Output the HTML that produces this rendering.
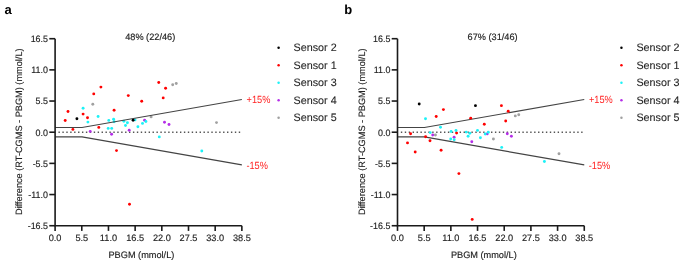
<!DOCTYPE html>
<html><head><meta charset="utf-8"><style>
html,body{margin:0;padding:0;background:#fff;}
body{width:685px;height:264px;overflow:hidden;}
svg{display:block;will-change:transform;}
text{font-family:"Liberation Sans",sans-serif;text-rendering:geometricPrecision;}
.tk{font-size:9.2px;fill:#222;stroke:#222;stroke-width:0.15px;}
.lg{font-size:10.75px;fill:#262626;stroke:#262626;stroke-width:0.1px;}
.pc{font-size:10.4px;fill:#f22;}
.lt{font-size:13px;font-weight:bold;fill:#000;}
.ax{stroke:#1a1a1a;stroke-width:1.6;fill:none;}
.bl{stroke:#444;stroke-width:1.15;fill:none;}
.dz{stroke:#555;stroke-width:1.4;fill:none;stroke-dasharray:1.4 2.52;}
</style></head><body>
<svg width="685" height="264" viewBox="0 0 685 264">
<rect width="685" height="264" fill="#fff"/>
<text x="4.6" y="14.4" class="lt">a</text>
<text class="tk" text-anchor="middle" transform="translate(22.3,131.7) rotate(-90) scale(1,1.0)">Difference (RT-CGMS - PBGM) (mmol/L)</text>
<text class="tk" text-anchor="middle" transform="translate(150.2,40.3)">48% (22/46)</text>
<path d="M58.45 132.2H240.5" class="dz"/>
<circle cx="92.8" cy="104.2" r="1.45" fill="#a0a0a0"/>
<circle cx="151.1" cy="116.9" r="1.45" fill="#a0a0a0"/>
<circle cx="172.7" cy="84.8" r="1.45" fill="#a0a0a0"/>
<circle cx="176.25" cy="83.5" r="1.45" fill="#a0a0a0"/>
<circle cx="216.5" cy="122.6" r="1.45" fill="#a0a0a0"/>
<circle cx="90.2" cy="131.4" r="1.45" fill="#b52ee8"/>
<circle cx="111.6" cy="134.2" r="1.45" fill="#b52ee8"/>
<circle cx="129.2" cy="130.2" r="1.45" fill="#b52ee8"/>
<circle cx="144.6" cy="120.2" r="1.45" fill="#b52ee8"/>
<circle cx="164.5" cy="122.2" r="1.45" fill="#b52ee8"/>
<circle cx="169" cy="124.5" r="1.45" fill="#b52ee8"/>
<circle cx="83.1" cy="108.2" r="1.45" fill="#1cf2f7"/>
<circle cx="98.1" cy="116.5" r="1.45" fill="#1cf2f7"/>
<circle cx="87.9" cy="122.1" r="1.45" fill="#1cf2f7"/>
<circle cx="108.8" cy="120.4" r="1.45" fill="#1cf2f7"/>
<circle cx="113.6" cy="119.2" r="1.45" fill="#1cf2f7"/>
<circle cx="114.1" cy="121.8" r="1.45" fill="#1cf2f7"/>
<circle cx="108.2" cy="128.4" r="1.45" fill="#1cf2f7"/>
<circle cx="111.7" cy="128.4" r="1.45" fill="#1cf2f7"/>
<circle cx="123.9" cy="121.3" r="1.45" fill="#1cf2f7"/>
<circle cx="127.4" cy="122.7" r="1.45" fill="#1cf2f7"/>
<circle cx="125.5" cy="125.5" r="1.45" fill="#1cf2f7"/>
<circle cx="135" cy="119.9" r="1.45" fill="#1cf2f7"/>
<circle cx="137.9" cy="126.8" r="1.45" fill="#1cf2f7"/>
<circle cx="142.5" cy="123.4" r="1.45" fill="#1cf2f7"/>
<circle cx="145.9" cy="121.5" r="1.45" fill="#1cf2f7"/>
<circle cx="159.3" cy="136.9" r="1.45" fill="#1cf2f7"/>
<circle cx="201.8" cy="151.05" r="1.45" fill="#1cf2f7"/>
<path d="M55.1 127.48H82.02L241.86 99.47" class="bl"/>
<path d="M55.1 136.92H82.02L241.86 164.93" class="bl"/>
<circle cx="68" cy="111.5" r="1.45" fill="#ff0000"/>
<circle cx="83.1" cy="114.1" r="1.45" fill="#ff0000"/>
<circle cx="87.5" cy="117.7" r="1.45" fill="#ff0000"/>
<circle cx="65.2" cy="120.5" r="1.45" fill="#ff0000"/>
<circle cx="72.9" cy="129.4" r="1.45" fill="#ff0000"/>
<circle cx="98.8" cy="127.4" r="1.45" fill="#ff0000"/>
<circle cx="93.75" cy="93.9" r="1.45" fill="#ff0000"/>
<circle cx="100.9" cy="87.1" r="1.45" fill="#ff0000"/>
<circle cx="114.1" cy="110.3" r="1.45" fill="#ff0000"/>
<circle cx="128.3" cy="95.6" r="1.45" fill="#ff0000"/>
<circle cx="141.7" cy="101.3" r="1.45" fill="#ff0000"/>
<circle cx="158.75" cy="82.5" r="1.45" fill="#ff0000"/>
<circle cx="165.6" cy="88.2" r="1.45" fill="#ff0000"/>
<circle cx="163.2" cy="97.9" r="1.45" fill="#ff0000"/>
<circle cx="116.5" cy="150.6" r="1.45" fill="#ff0000"/>
<circle cx="129.5" cy="204.25" r="1.45" fill="#ff0000"/>
<circle cx="76.9" cy="118.8" r="1.45" fill="#000000"/>
<circle cx="133.1" cy="120.3" r="1.45" fill="#000000"/>
<path d="M55.1 38.7V225.7H241.86" class="ax"/>
<path d="M49.3 38.7H55.1" class="ax"/>
<text class="tk" text-anchor="end" transform="translate(48,42.1) scale(0.97,1.0)">16.5</text>
<path d="M49.3 69.87H55.1" class="ax"/>
<text class="tk" text-anchor="end" transform="translate(48,73.27) scale(0.97,1.0)">11.0</text>
<path d="M49.3 101.04H55.1" class="ax"/>
<text class="tk" text-anchor="end" transform="translate(48,104.44) scale(0.97,1.0)">5.5</text>
<path d="M49.3 132.21H55.1" class="ax"/>
<text class="tk" text-anchor="end" transform="translate(48,135.61) scale(0.97,1.0)">0.0</text>
<path d="M49.3 163.38H55.1" class="ax"/>
<text class="tk" text-anchor="end" transform="translate(48,166.78) scale(0.97,1.0)">-5.5</text>
<path d="M49.3 194.55H55.1" class="ax"/>
<text class="tk" text-anchor="end" transform="translate(48,197.95) scale(0.97,1.0)">-11.0</text>
<path d="M49.3 225.72H55.1" class="ax"/>
<text class="tk" text-anchor="end" transform="translate(48,229.12) scale(0.97,1.0)">-16.5</text>
<path d="M55.1 225.7V230.9" class="ax"/>
<text class="tk" text-anchor="middle" transform="translate(55.1,241.3)">0.0</text>
<path d="M81.78 225.7V230.9" class="ax"/>
<text class="tk" text-anchor="middle" transform="translate(81.78,241.3)">5.5</text>
<path d="M108.46 225.7V230.9" class="ax"/>
<text class="tk" text-anchor="middle" transform="translate(108.46,241.3)">11.0</text>
<path d="M135.14 225.7V230.9" class="ax"/>
<text class="tk" text-anchor="middle" transform="translate(135.14,241.3)">16.5</text>
<path d="M161.82 225.7V230.9" class="ax"/>
<text class="tk" text-anchor="middle" transform="translate(161.82,241.3)">22.0</text>
<path d="M188.5 225.7V230.9" class="ax"/>
<text class="tk" text-anchor="middle" transform="translate(188.5,241.3)">27.5</text>
<path d="M215.18 225.7V230.9" class="ax"/>
<text class="tk" text-anchor="middle" transform="translate(215.18,241.3)">33.0</text>
<path d="M241.86 225.7V230.9" class="ax"/>
<text class="tk" text-anchor="middle" transform="translate(241.86,241.3)">38.5</text>
<text class="tk" text-anchor="middle" transform="translate(141.4,257.8)">PBGM (mmol/L)</text>
<text class="pc" transform="translate(246.6,102.9) scale(0.885,1)">+15%</text>
<text class="pc" transform="translate(246.4,168.9) scale(0.885,1)">-15%</text>
<circle cx="278.6" cy="47.8" r="1.25" fill="#000000"/>
<text x="293.6" y="51.2" class="lg">Sensor 2</text>
<circle cx="278.6" cy="65.27" r="1.25" fill="#ff0000"/>
<text x="293.6" y="68.67" class="lg">Sensor 1</text>
<circle cx="278.6" cy="82.74" r="1.25" fill="#1cf2f7"/>
<text x="293.6" y="86.14" class="lg">Sensor 3</text>
<circle cx="278.6" cy="100.21" r="1.25" fill="#b52ee8"/>
<text x="293.6" y="103.61" class="lg">Sensor 4</text>
<circle cx="278.6" cy="117.68" r="1.25" fill="#a0a0a0"/>
<text x="293.6" y="121.08" class="lg">Sensor 5</text>
<text x="344.2" y="14.4" class="lt">b</text>
<text class="tk" text-anchor="middle" transform="translate(364.7,131.7) rotate(-90) scale(1,1.0)">Difference (RT-CGMS - PBGM) (mmol/L)</text>
<text class="tk" text-anchor="middle" transform="translate(492.6,40.3)">67% (31/46)</text>
<path d="M400.85 132.2H582.9" class="dz"/>
<circle cx="435.4" cy="135" r="1.45" fill="#a0a0a0"/>
<circle cx="515.3" cy="115.9" r="1.45" fill="#a0a0a0"/>
<circle cx="518.75" cy="114.7" r="1.45" fill="#a0a0a0"/>
<circle cx="493.4" cy="139" r="1.45" fill="#a0a0a0"/>
<circle cx="559" cy="153.8" r="1.45" fill="#a0a0a0"/>
<circle cx="432.7" cy="135" r="1.45" fill="#b52ee8"/>
<circle cx="454.1" cy="137.2" r="1.45" fill="#b52ee8"/>
<circle cx="487.2" cy="133.9" r="1.45" fill="#b52ee8"/>
<circle cx="471.8" cy="141.8" r="1.45" fill="#b52ee8"/>
<circle cx="507.3" cy="133.8" r="1.45" fill="#b52ee8"/>
<circle cx="511.4" cy="136.2" r="1.45" fill="#b52ee8"/>
<circle cx="425.5" cy="118.7" r="1.45" fill="#1cf2f7"/>
<circle cx="440.5" cy="127.2" r="1.45" fill="#1cf2f7"/>
<circle cx="430.2" cy="132.6" r="1.45" fill="#1cf2f7"/>
<circle cx="451.1" cy="131.5" r="1.45" fill="#1cf2f7"/>
<circle cx="456" cy="130.5" r="1.45" fill="#1cf2f7"/>
<circle cx="450.7" cy="139" r="1.45" fill="#1cf2f7"/>
<circle cx="454.2" cy="139.8" r="1.45" fill="#1cf2f7"/>
<circle cx="466.2" cy="132.1" r="1.45" fill="#1cf2f7"/>
<circle cx="469.8" cy="133.3" r="1.45" fill="#1cf2f7"/>
<circle cx="468.1" cy="136.2" r="1.45" fill="#1cf2f7"/>
<circle cx="477.5" cy="130.4" r="1.45" fill="#1cf2f7"/>
<circle cx="480.4" cy="137.8" r="1.45" fill="#1cf2f7"/>
<circle cx="485.2" cy="134" r="1.45" fill="#1cf2f7"/>
<circle cx="488.3" cy="132.2" r="1.45" fill="#1cf2f7"/>
<circle cx="501.7" cy="147.4" r="1.45" fill="#1cf2f7"/>
<circle cx="544.4" cy="161.5" r="1.45" fill="#1cf2f7"/>
<path d="M397.5 127.48H424.42L584.26 99.47" class="bl"/>
<path d="M397.5 136.92H424.42L584.26 164.93" class="bl"/>
<circle cx="443.4" cy="109.6" r="1.45" fill="#ff0000"/>
<circle cx="436.2" cy="116.45" r="1.45" fill="#ff0000"/>
<circle cx="410.6" cy="133.8" r="1.45" fill="#ff0000"/>
<circle cx="425.6" cy="136.7" r="1.45" fill="#ff0000"/>
<circle cx="430" cy="140.7" r="1.45" fill="#ff0000"/>
<circle cx="407.5" cy="142.9" r="1.45" fill="#ff0000"/>
<circle cx="456.6" cy="133.1" r="1.45" fill="#ff0000"/>
<circle cx="415.2" cy="152" r="1.45" fill="#ff0000"/>
<circle cx="441.1" cy="150.3" r="1.45" fill="#ff0000"/>
<circle cx="458.9" cy="173.6" r="1.45" fill="#ff0000"/>
<circle cx="472.2" cy="219.4" r="1.45" fill="#ff0000"/>
<circle cx="501.4" cy="105.65" r="1.45" fill="#ff0000"/>
<circle cx="508.2" cy="111.3" r="1.45" fill="#ff0000"/>
<circle cx="470.7" cy="118.15" r="1.45" fill="#ff0000"/>
<circle cx="505.7" cy="121" r="1.45" fill="#ff0000"/>
<circle cx="484.3" cy="124.2" r="1.45" fill="#ff0000"/>
<circle cx="419.2" cy="103.95" r="1.45" fill="#000000"/>
<circle cx="475.45" cy="105.65" r="1.45" fill="#000000"/>
<path d="M397.5 38.7V225.7H584.26" class="ax"/>
<path d="M391.7 38.7H397.5" class="ax"/>
<text class="tk" text-anchor="end" transform="translate(390.4,42.1) scale(0.97,1.0)">16.5</text>
<path d="M391.7 69.87H397.5" class="ax"/>
<text class="tk" text-anchor="end" transform="translate(390.4,73.27) scale(0.97,1.0)">11.0</text>
<path d="M391.7 101.04H397.5" class="ax"/>
<text class="tk" text-anchor="end" transform="translate(390.4,104.44) scale(0.97,1.0)">5.5</text>
<path d="M391.7 132.21H397.5" class="ax"/>
<text class="tk" text-anchor="end" transform="translate(390.4,135.61) scale(0.97,1.0)">0.0</text>
<path d="M391.7 163.38H397.5" class="ax"/>
<text class="tk" text-anchor="end" transform="translate(390.4,166.78) scale(0.97,1.0)">-5.5</text>
<path d="M391.7 194.55H397.5" class="ax"/>
<text class="tk" text-anchor="end" transform="translate(390.4,197.95) scale(0.97,1.0)">-11.0</text>
<path d="M391.7 225.72H397.5" class="ax"/>
<text class="tk" text-anchor="end" transform="translate(390.4,229.12) scale(0.97,1.0)">-16.5</text>
<path d="M397.5 225.7V230.9" class="ax"/>
<text class="tk" text-anchor="middle" transform="translate(397.5,241.3)">0.0</text>
<path d="M424.18 225.7V230.9" class="ax"/>
<text class="tk" text-anchor="middle" transform="translate(424.18,241.3)">5.5</text>
<path d="M450.86 225.7V230.9" class="ax"/>
<text class="tk" text-anchor="middle" transform="translate(450.86,241.3)">11.0</text>
<path d="M477.54 225.7V230.9" class="ax"/>
<text class="tk" text-anchor="middle" transform="translate(477.54,241.3)">16.5</text>
<path d="M504.22 225.7V230.9" class="ax"/>
<text class="tk" text-anchor="middle" transform="translate(504.22,241.3)">22.0</text>
<path d="M530.9 225.7V230.9" class="ax"/>
<text class="tk" text-anchor="middle" transform="translate(530.9,241.3)">27.5</text>
<path d="M557.58 225.7V230.9" class="ax"/>
<text class="tk" text-anchor="middle" transform="translate(557.58,241.3)">33.0</text>
<path d="M584.26 225.7V230.9" class="ax"/>
<text class="tk" text-anchor="middle" transform="translate(584.26,241.3)">38.5</text>
<text class="tk" text-anchor="middle" transform="translate(483.8,257.8)">PBGM (mmol/L)</text>
<text class="pc" transform="translate(589,102.9) scale(0.885,1)">+15%</text>
<text class="pc" transform="translate(588.8,168.9) scale(0.885,1)">-15%</text>
<circle cx="621.45" cy="47.8" r="1.25" fill="#000000"/>
<text x="636.45" y="51.2" class="lg">Sensor 2</text>
<circle cx="621.45" cy="65.27" r="1.25" fill="#ff0000"/>
<text x="636.45" y="68.67" class="lg">Sensor 1</text>
<circle cx="621.45" cy="82.74" r="1.25" fill="#1cf2f7"/>
<text x="636.45" y="86.14" class="lg">Sensor 3</text>
<circle cx="621.45" cy="100.21" r="1.25" fill="#b52ee8"/>
<text x="636.45" y="103.61" class="lg">Sensor 4</text>
<circle cx="621.45" cy="117.68" r="1.25" fill="#a0a0a0"/>
<text x="636.45" y="121.08" class="lg">Sensor 5</text>
</svg>
</body></html>
